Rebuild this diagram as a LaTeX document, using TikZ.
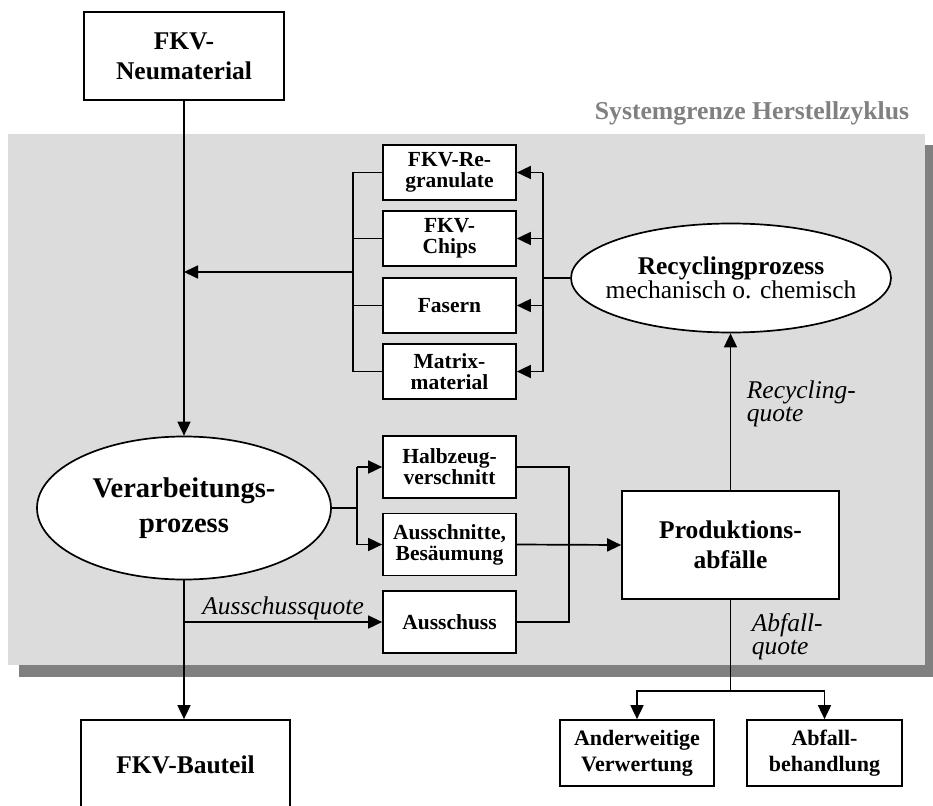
\documentclass[tikz,border=0pt]{standalone}
\usepackage{fontspec}
\setmainfont{Liberation Serif}
\usepackage{xcolor}
\usetikzlibrary{arrows.meta,positioning,shapes.geometric}
\definecolor{grenze}{RGB}{220,220,220}
\definecolor{schatten}{RGB}{128,128,128}
\tikzset{
	stoff/.style={draw, fill=white, align=center, inner sep=0pt,
			font=\bfseries\fontsize{25.5}{30}\selectfont},
	teil/.style={stoff, minimum width=133pt,
			font=\bfseries\fontsize{21.5}{21}\selectfont},
	prozess/.style={ellipse, draw, fill=white, align=center, inner sep=0pt},
	quote/.style={font=\itshape\fontsize{25.5}{23}\selectfont, align=left, inner sep=0pt},
	pfeil/.style={-{Triangle[length=14pt,width=13pt]}}
}

\begin{document}
\begin{tikzpicture}[x=1pt, y=-1pt, line width=1.7pt]
		\useasboundingbox (0, 0) rectangle (933, 805);

		% Systemgrenze mit Schatten
		\fill[schatten]	(19, 145) rectangle (940, 677);
		\fill[grenze]	(8, 134) rectangle (925, 665);
		\node[anchor=east, text=schatten, inner sep=0pt, font=\bfseries\fontsize{25.7}{30}\selectfont]
			(grenzlabel) at (910, 113) {Systemgrenze Herstellzyklus};

		\node[stoff, minimum width=200pt, minimum height=88pt] (neu) at (184, 56) {FKV-\\Neumaterial};
		\node[prozess, minimum width=294pt, minimum height=143pt, font=\bfseries\fontsize{28.5}{35}\selectfont]
			(verarb) at (184, 508) {Verarbeitungs-\\prozess};
		\node[stoff, minimum width=209pt, minimum height=90pt] (bauteil) at (185.5, 765) {FKV-Bauteil};

		\node[teil, minimum height=55pt] (regran) at (449.5, 172.5) {FKV-Re-\\granulate};
		\node[teil, minimum height=55pt] (chips) at (449.5, 238.5) {FKV-\\Chips};
		\node[teil, minimum height=55pt] (fasern) at (449.5, 305.5) {Fasern};
		\node[teil, minimum height=55pt] (matrix) at (449.5, 371.5) {Matrix-\\material};

		\node[prozess, minimum width=320pt, minimum height=109pt, inner xsep=-30pt] (recyc) at (731, 278)
			{{\bfseries\fontsize{25.5}{32}\selectfont Recyclingprozess}\\
			 {\fontsize{25.5}{32}\selectfont mechanisch o. chemisch}};

		\node[teil, minimum height=62pt] (halbzeug) at (449.5, 467) {Halbzeug-\\verschnitt};
		\node[teil, minimum height=62pt] (ausschn) at (449.5, 544.5) {Ausschnitte,\\Besäumung};
		\node[teil, minimum height=62pt] (aussch) at (449.5, 622) {Ausschuss};

		\node[stoff, minimum width=217pt, minimum height=108pt] (prod) at (730.5, 545) {Produktions-\\abfälle};

		\node[stoff, minimum width=154pt, minimum height=66pt, font=\bfseries\fontsize{22}{26}\selectfont]
			(anderw) at (637, 753) {Anderweitige\\Verwertung};
		\node[stoff, minimum width=155pt, minimum height=66pt, font=\bfseries\fontsize{22}{26}\selectfont]
			(abfallb) at (824.5, 753) {Abfall-\\behandlung};

		% Neumaterial und Rezyklate
		\draw[pfeil] (neu) -- (verarb);
		\coordinate (rjoin) at (354, 272);
		\draw (regran.west) -- ++(-29, 0) |- (matrix.west);
		\draw (chips.west) -- ++(-29, 0);
		\draw (fasern.west) -- ++(-29, 0);
		\draw[pfeil] (rjoin) -- (rjoin -| verarb.north);

		\coordinate (rsplit) at (543, 278);
		\draw (recyc.west) -- (rsplit);
		\draw (rsplit |- regran.east) -- (rsplit |- matrix.east);
		\foreach \n in {regran, chips, fasern, matrix}
			\draw[pfeil] (rsplit |- \n.east) -- (\n.east);

		% Abfaelle aus der Verarbeitung
		\coordinate (vsplit) at (357, 508);
		\draw (verarb.east) -- (vsplit);
		\draw (vsplit |- halbzeug.west) -- (vsplit |- ausschn.west);
		\draw[pfeil] (vsplit |- halbzeug.west) -- (halbzeug.west);
		\draw[pfeil] (vsplit |- ausschn.west) -- (ausschn.west);
		\draw[pfeil] (verarb.south |- aussch.west) -- (aussch.west)
			node[midway, above, quote, inner sep=1.5pt] (ausschquote) {Ausschussquote};
		\draw[pfeil] (verarb.south) -- (verarb.south |- bauteil.north);

		\coordinate (psplit) at (569, 545);
		\draw (halbzeug.east) -- (halbzeug.east -| psplit) -- (aussch.east -| psplit) -- (aussch.east);
		\draw[pfeil] (ausschn.east) -- (prod.west);

		% Recycling und Entsorgung
		\draw[pfeil] (prod.north) -- (prod.north |- recyc.south);
		\node[quote, anchor=north west] (recquote) at (746, 380) {Recycling-\\quote};

		\coordinate (wsplit) at (730.5, 691);
		\draw (prod.south) -- (wsplit);
		\draw[pfeil] (wsplit) -| (anderw.north);
		\draw[pfeil] (wsplit) -| (abfallb.north);
		\node[quote, anchor=north west] (abfquote) at (751, 613) {Abfall-\\quote};
	\end{tikzpicture}
\end{document}
